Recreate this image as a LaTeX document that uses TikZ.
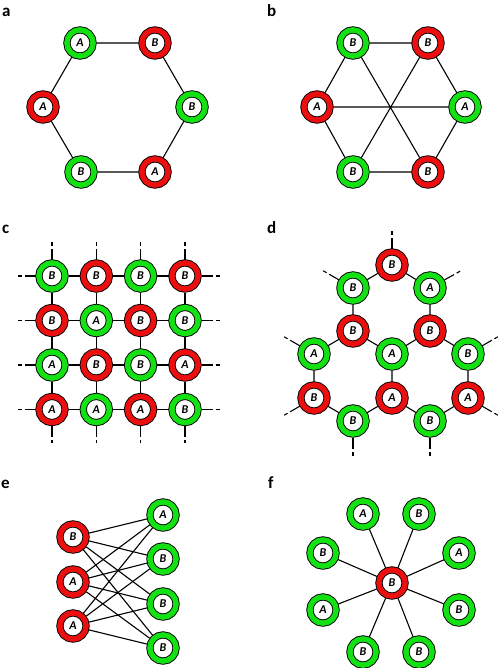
\documentclass[tikz,border=0pt]{standalone}
\usepackage{fontspec}
\newfontfamily\carl{Carlito}
\definecolor{ringgreen}{RGB}{20,225,20}
\definecolor{ringred}{RGB}{235,15,15}
\tikzset{
  vtx/.style={circle, draw=black, line width=0.9pt, double distance=5.4pt, fill=white,
    minimum size=26.2pt, inner sep=0pt, outer sep=3.4pt,
    font=\carl\bfseries\itshape\fontsize{12}{12}\selectfont},
  gv/.style={vtx, double=ringgreen},
  rv/.style={vtx, double=ringred},
  edge/.style={line width=1.1pt},
  stub/.style={line width=1.1pt, dash pattern=on 11pt off 3pt on 4pt off 40pt},
  panel/.style={font=\carl\bfseries\fontsize{17}{18}\selectfont, anchor=base west, inner sep=0pt}
}
\begin{document}
\begin{tikzpicture}[x=1pt,y=-1pt]
\useasboundingbox (0,0) rectangle (498,668);
% panel labels
\node[panel] (la) at (2,17) {a};
\node[panel] (lb) at (267,17) {b};
\node[panel] (lc) at (2,233) {c};
\node[panel] (ld) at (267,233) {d};
\node[panel] (le) at (1,488) {e};
\node[panel] (lf) at (268,488) {f};

% ---------- a ----------
\node[gv] (a1) at (80,43) {A};
\node[rv] (a2) at (155,43) {B};
\node[gv] (a3) at (192,107) {B};
\node[rv] (a4) at (155,172) {A};
\node[gv] (a5) at (81,172) {B};
\node[rv] (a6) at (43,107) {A};
\draw[edge] (a1)--(a2) (a2)--(a3) (a3)--(a4) (a4)--(a5) (a5)--(a6) (a6)--(a1);

% ---------- b ----------
\node[gv] (b1) at (353,43) {B};
\node[rv] (b2) at (428,43) {B};
\node[gv] (b3) at (465,107) {A};
\node[rv] (b4) at (428,172) {B};
\node[gv] (b5) at (353,172) {B};
\node[rv] (b6) at (317,107) {A};
\draw[edge] (b1)--(b2) (b2)--(b3) (b3)--(b4) (b4)--(b5) (b5)--(b6) (b6)--(b1)
  (b1)--(b4) (b2)--(b5) (b3)--(b6);

% ---------- c ----------
\node[gv] (c11) at (52,276) {B};
\node[rv] (c12) at (96.3,276) {B};
\node[gv] (c13) at (140.6,276) {B};
\node[rv] (c14) at (185,276) {B};
\node[rv] (c21) at (52,320.5) {B};
\node[gv] (c22) at (96.3,320.5) {A};
\node[rv] (c23) at (140.6,320.5) {B};
\node[gv] (c24) at (185,320.5) {B};
\node[gv] (c31) at (52,365) {A};
\node[rv] (c32) at (96.3,365) {B};
\node[gv] (c33) at (140.6,365) {B};
\node[rv] (c34) at (185,365) {A};
\node[rv] (c41) at (52,409.5) {A};
\node[gv] (c42) at (96.3,409.5) {A};
\node[rv] (c43) at (140.6,409.5) {A};
\node[gv] (c44) at (185,409.5) {B};
\foreach \r in {1,2,3,4}{
  \draw[edge] (c\r1)--(c\r2) (c\r2)--(c\r3) (c\r3)--(c\r4);
  \draw[edge] (c1\r)--(c2\r) (c2\r)--(c3\r) (c3\r)--(c4\r);
}
\foreach \r/\y in {1/276,2/320.5,3/365,4/409.5}{
  \coordinate (cL\r) at (17,\y);
  \coordinate (cR\r) at (220,\y);
  \draw[stub] (c\r1)--(cL\r);
  \draw[stub] (c\r4)--(cR\r);
}
\foreach \c/\x in {1/52,2/96.3,3/140.6,4/185}{
  \coordinate (cT\c) at (\x,242);
  \coordinate (cB\c) at (\x,443);
  \draw[stub] (c1\c)--(cT\c);
  \draw[stub] (c4\c)--(cB\c);
}

% ---------- d ----------
\node[rv] (d1) at (392,265) {B};
\node[gv] (d2) at (353,288) {B};
\node[gv] (d3) at (430,288) {A};
\node[rv] (d4) at (353,331) {B};
\node[rv] (d5) at (430,331) {B};
\node[gv] (d6) at (314,354) {A};
\node[gv] (d7) at (392,354) {A};
\node[gv] (d8) at (468,354) {B};
\node[rv] (d9) at (314,398) {B};
\node[rv] (d10) at (392,398) {A};
\node[rv] (d11) at (468,398) {A};
\node[gv] (d12) at (353,421) {B};
\node[gv] (d13) at (430,421) {B};
\draw[edge] (d1)--(d2) (d1)--(d3) (d2)--(d4) (d3)--(d5) (d4)--(d7) (d5)--(d7)
  (d4)--(d6) (d5)--(d8) (d6)--(d9) (d7)--(d10) (d8)--(d11)
  (d9)--(d12) (d12)--(d10) (d10)--(d13) (d13)--(d11);
\coordinate (dS1) at (392,230);
\coordinate (dS2) at (322.7,270.5);
\coordinate (dS3) at (461.3,270.5);
\coordinate (dS6) at (283.7,336.5);
\coordinate (dS8) at (498.3,336.5);
\coordinate (dS9) at (283.7,415.5);
\coordinate (dS11) at (498.3,415.5);
\coordinate (dS12) at (353,456);
\coordinate (dS13) at (430,456);
\foreach \n in {1,2,3,6,8,9,11,12,13}{
  \draw[stub] (d\n)--(dS\n);
}

% ---------- e ----------
\node[rv] (e1) at (73,537) {B};
\node[rv] (e2) at (73,582) {A};
\node[rv] (e3) at (73,626) {A};
\node[gv] (e4) at (163,515) {A};
\node[gv] (e5) at (163,559) {B};
\node[gv] (e6) at (163,604) {B};
\node[gv] (e7) at (163,648) {B};
\foreach \i in {1,2,3}{
  \foreach \j in {4,5,6,7}{
    \draw[edge] (e\i)--(e\j);
  }
}

% ---------- f ----------
\node[rv] (f0) at (392,583) {B};
\node[gv] (f1) at (363,514) {A};
\node[gv] (f2) at (419,514) {B};
\node[gv] (f3) at (323,553) {B};
\node[gv] (f4) at (459,553) {A};
\node[gv] (f5) at (323,610) {A};
\node[gv] (f6) at (459,610) {B};
\node[gv] (f7) at (363,652) {B};
\node[gv] (f8) at (419,652) {B};
\foreach \j in {1,...,8}{
  \draw[edge] (f0)--(f\j);
}
\end{tikzpicture}
\end{document}
